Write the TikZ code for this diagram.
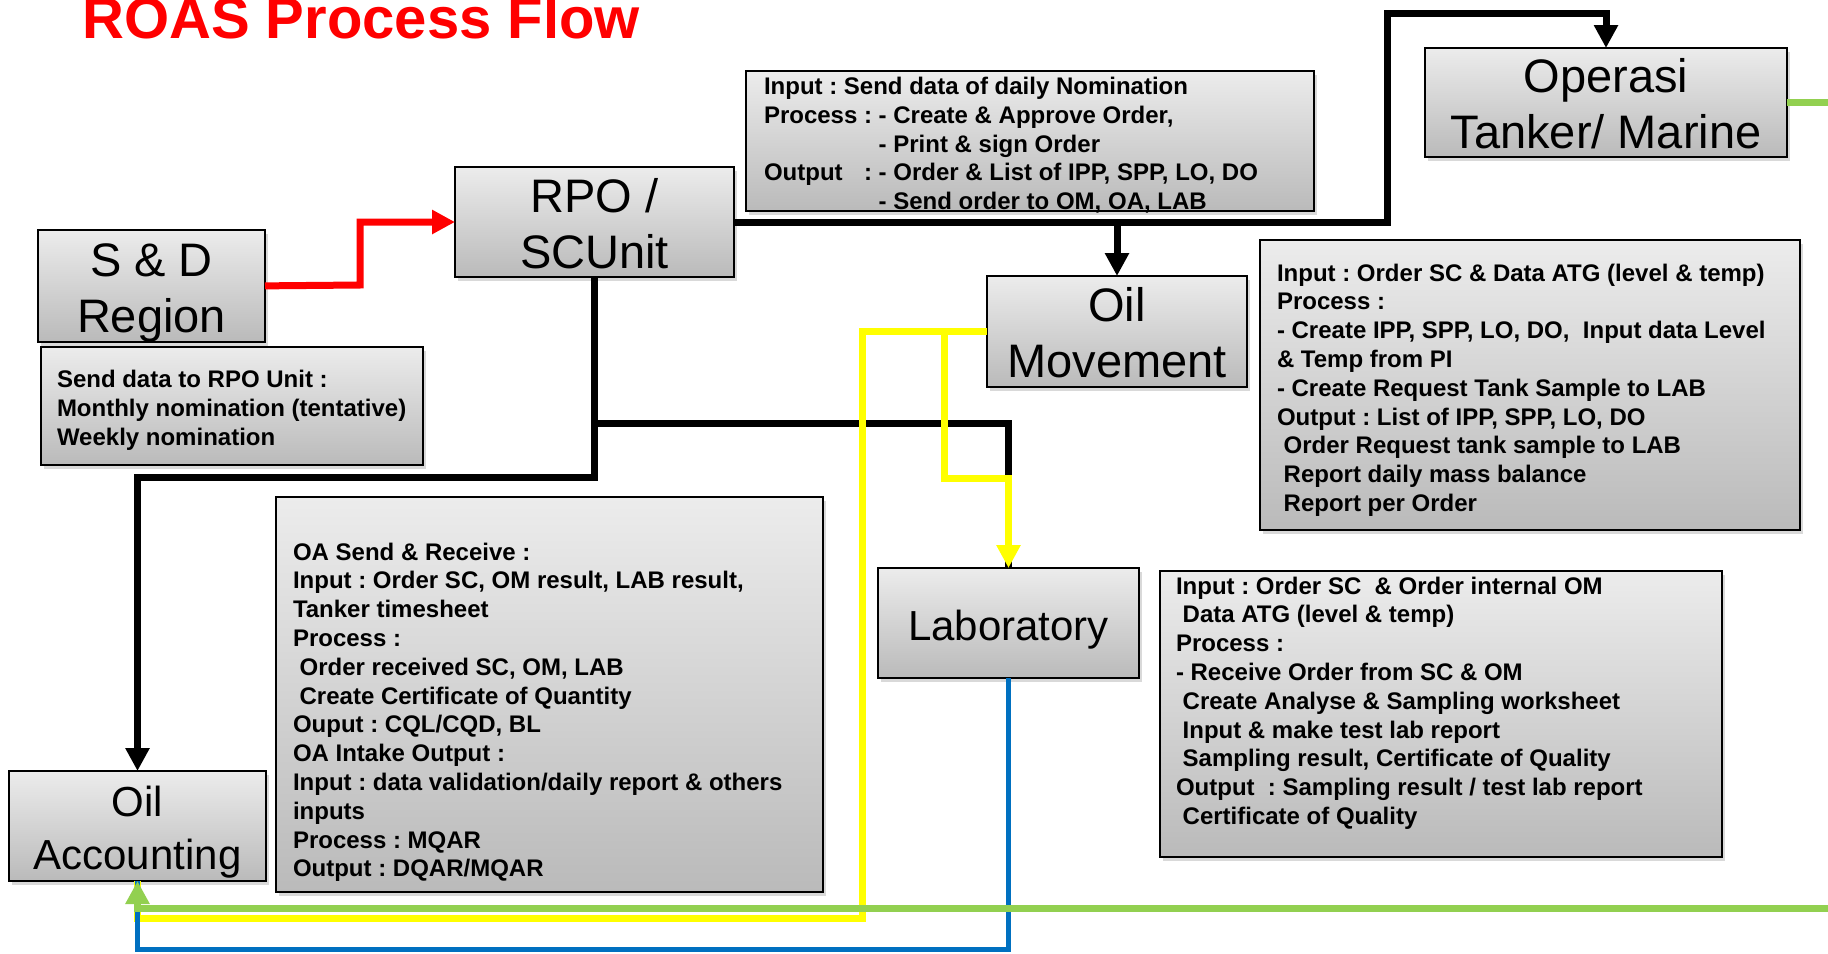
\documentclass[tikz,border=0pt]{standalone}
\usepackage{fontspec}
\setmainfont{Liberation Sans}
\usetikzlibrary{arrows.meta,shadows}
\definecolor{boxtop}{RGB}{236,236,236}
\definecolor{boxbot}{RGB}{186,186,186}
\definecolor{lgreen}{RGB}{146,208,80}
\definecolor{lblue}{RGB}{0,112,192}
\definecolor{lyellow}{RGB}{255,255,0}
\definecolor{lred}{RGB}{255,0,0}
\frenchspacing
\begin{document}
\begin{tikzpicture}[x=1pt,y=-1pt,
  boxbase/.style={draw=black, line width=1.8pt, top color=boxtop, bottom color=boxbot,
    drop shadow={shadow xshift=3pt, shadow yshift=-4pt, opacity=0.3},
    inner sep=0pt, outer sep=0pt, anchor=north west},
  bigbox/.style={boxbase, align=center, font=\fontsize{47}{56}\selectfont},
  midbox/.style={boxbase, align=center, font=\fontsize{42}{53}\selectfont},
  txt/.style={anchor=base west, inner sep=0pt, outer sep=0pt, font=\fontsize{24}{28.8}\selectfont\bfseries},
  conn/.style={line width=7pt},
  arr/.style={-{Triangle[length=23pt,width=23pt]}},
]
\useasboundingbox (0,0) rectangle (1828,953);

% title
\node[anchor=base west, inner sep=0pt, text=lred, font=\fontsize{58}{60}\selectfont\bfseries] (title) at (82,38) {ROAS Process Flow};

% main boxes
\node[bigbox, minimum width=227pt, minimum height=110pt] (sd) at (38,230) {\rule{0pt}{46pt}S \& D\\Region};
\node[bigbox, minimum width=279pt, minimum height=110pt] (rpo) at (455,167) {\rule{0pt}{37pt}RPO /\\SCUnit};
\node[bigbox, minimum width=362pt, minimum height=109pt] (op) at (1425,48) {\rule{0pt}{37pt}Operasi\\Tanker/ Marine};
\node[bigbox, minimum width=260pt, minimum height=111pt] (om) at (987,276) {\rule{0pt}{37pt}Oil\\Movement};
\node[midbox, minimum width=261pt, minimum height=110pt] (lab) at (878,568) {\rule{0pt}{43pt}Laboratory};
\node[midbox, minimum width=257pt, minimum height=110pt] (oa) at (9,771) {\rule{0pt}{42pt}Oil\\Accounting};

% text boxes
\node[boxbase, minimum width=382pt, minimum height=118pt] (sdbox) at (41,347) {};
\node[txt] (sdtxt) at (57,387.6) {\begin{tabular}[t]{@{}l@{}}
Send data to RPO Unit :\\
Monthly nomination (tentative)\\
Weekly nomination
\end{tabular}};

\node[boxbase, minimum width=568pt, minimum height=140pt] (rpobox) at (746,71) {};
\node[txt] (rpotxt) at (764,94.5) {\begin{tabular}[t]{@{}l@{\ }l@{}}
\multicolumn{2}{@{}l@{}}{Input : Send data of daily Nomination}\\
Process : & - Create \& Approve Order,\\
 & - Print \& sign Order\\
Output\hfill: & - Order \& List of IPP, SPP, LO, DO\\
 & - Send order to OM, OA, LAB
\end{tabular}};

\node[boxbase, minimum width=540pt, minimum height=290pt] (ombox) at (1260,240) {};
\node[txt] (omtxt) at (1277,281) {\begin{tabular}[t]{@{}l@{}}
Input : Order SC \& Data ATG (level \& temp)\\
Process :\\
- Create IPP, SPP, LO, DO,\ \ Input data Level\\
\& Temp from PI\\
- Create Request Tank Sample to LAB\\
Output : List of IPP, SPP, LO, DO\\
\ Order Request tank sample to LAB\\
\ Report daily mass balance\\
\ Report per Order
\end{tabular}};

\node[boxbase, minimum width=562pt, minimum height=286pt] (labbox) at (1160,571) {};
\node[txt] (labtxt) at (1176,594) {\begin{tabular}[t]{@{}l@{}}
Input : Order SC\ \ \& Order internal OM\\
\ Data ATG (level \& temp)\\
Process :\\
- Receive Order from SC \& OM\\
\ Create Analyse \& Sampling worksheet\\
\ Input \& make test lab report\\
\ Sampling result, Certificate of Quality\\
Output\ \ : Sampling result / test lab report\\
\ Certificate of Quality
\end{tabular}};

\node[boxbase, minimum width=547pt, minimum height=395pt] (oabox) at (276,497) {};
\node[txt] (oatxt) at (293,560) {\begin{tabular}[t]{@{}l@{}}
OA Send \& Receive :\\
Input : Order SC, OM result, LAB result,\\
Tanker timesheet\\
Process :\\
\ Order received SC, OM, LAB\\
\ Create Certificate of Quantity\\
Ouput : CQL/CQD, BL\\
OA Intake Output :\\
Input : data validation/daily report \& others\\
inputs\\
Process : MQAR\\
Output : DQAR/MQAR
\end{tabular}};

% connectors
\coordinate (gtop) at (1828,102.5);
\coordinate (gbot) at (1828,908);

\draw[conn, lred, arr] (sd.east) -- (360,285) -- (360,222) -- (rpo.west);

\draw[conn, black, arr] (rpo.east) -- (1387,222) -- (1387,13) -| (op.north);
\draw[conn, black, arr] (rpo.east -| om.north) -- (om.north);
\draw[conn, black, arr] (rpo.south) -- (594.5,477) -| (oa.north);
\draw[conn, black] (594.5,423) -| (lab.north);

\draw[conn, lyellow] (om.west) -- (862,331.5) -- (862,918) -| (oa.south);
\draw[conn, lyellow, arr] (944,331.5) -- (944,478) -| (lab.north);

\draw[line width=5pt, lblue] (lab.south) |- (oa.south |- 0,949) -- (oa.south);

\draw[conn, lgreen] (op.east) -- (gtop);
\draw[conn, lgreen, arr] (gbot) -| (oa.south);
\end{tikzpicture}
\end{document}
